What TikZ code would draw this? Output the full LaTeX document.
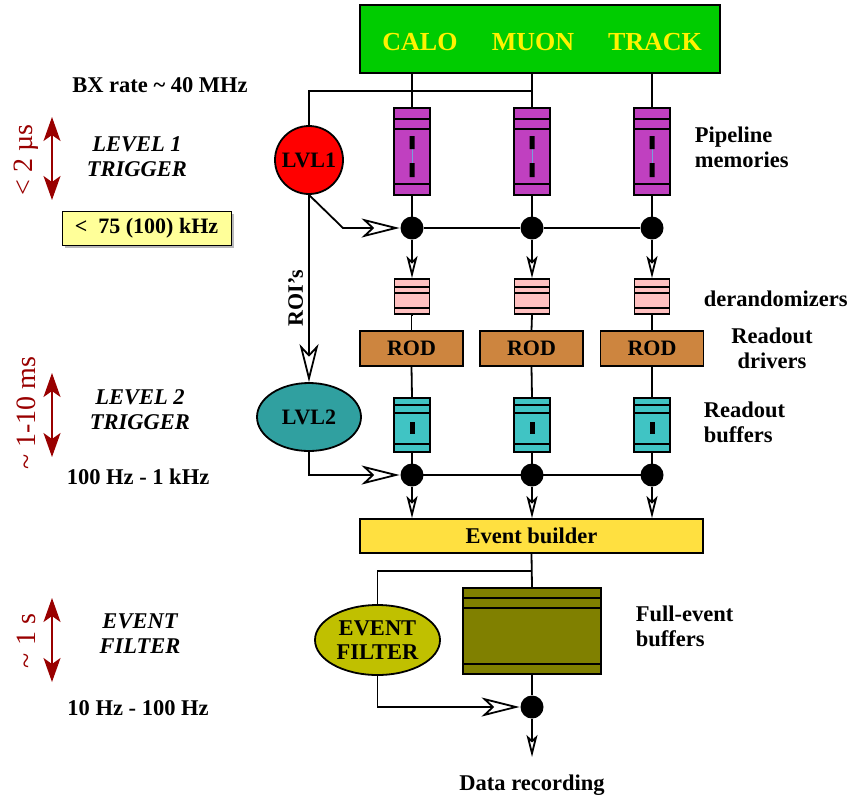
\documentclass[tikz,border=0pt]{standalone}
\usepackage{fontspec}
\setmainfont{Liberation Serif}
\usetikzlibrary{arrows.meta,calc,shapes.geometric}
\definecolor{topgreen}{RGB}{0,204,0}
\definecolor{pipecol}{RGB}{192,64,192}
\definecolor{pinkcol}{RGB}{255,192,192}
\definecolor{rodcol}{RGB}{205,133,63}
\definecolor{bufcol}{RGB}{64,196,196}
\definecolor{lvltwocol}{RGB}{48,160,160}
\definecolor{ebcol}{RGB}{255,224,64}
\definecolor{efcol}{RGB}{192,192,0}
\definecolor{febcol}{RGB}{128,128,0}
\definecolor{boxyellow}{RGB}{255,255,153}
\definecolor{darkred}{RGB}{153,0,0}
\definecolor{thinblue}{RGB}{120,160,220}
\newcommand\PipeMem[2]{%
  \node[pipe] (#1) at (#2,151.5) {};
  \draw (#2-18,119) -- (#2+18,119) (#2-18,129) -- (#2+18,129) (#2-18,184) -- (#2+18,184);
  \draw[line width=0.8pt, thinblue] (#2,149) -- (#2,163);
  \fill (#2-2.5,136) rectangle (#2+2.5,149) (#2-2.5,163) rectangle (#2+2.5,177);
}
\newcommand\DerandBox[2]{%
  \node[derand] (#1) at (#2,296.5) {};
  \draw (#2-17.5,287) -- (#2+17.5,287) (#2-17.5,293) -- (#2+17.5,293) (#2-17.5,308) -- (#2+17.5,308);
}
\newcommand\ReadBuf[2]{%
  \node[rbuf] (#1) at (#2,425) {};
  \draw (#2-18,405) -- (#2+18,405) (#2-18,413) -- (#2+18,413) (#2-18,444) -- (#2+18,444);
  \fill (#2-2.5,422) rectangle (#2+2.5,434);
}
\begin{document}
\begin{tikzpicture}[x=1pt,y=-1pt,line width=1.8pt,
  lab/.style={font=\fontsize{22.5}{25}\selectfont\bfseries, align=left, inner sep=0},
  itlab/.style={font=\fontsize{22.5}{25}\selectfont\bfseries\itshape, align=center, inner sep=0},
  timelab/.style={font=\fontsize{28}{30}\selectfont, text=darkred, rotate=90, inner sep=0},
  timearrow/.style={darkred, line width=1.6pt, {Stealth[length=24pt,width=17pt,inset=6pt]}-{Stealth[length=24pt,width=17pt,inset=6pt]}},
  dot/.style={circle, fill=black, minimum size=23pt, inner sep=0},
  bigarrow/.style={-{Stealth[fill=white,length=38pt,width=19pt,inset=10pt]}},
  smallarrow/.style={-{Stealth[fill=white,length=22pt,width=11pt,inset=5pt]}},
  pipe/.style={draw, fill=pipecol, minimum width=36pt, minimum height=87pt, inner sep=0},
  derand/.style={draw, fill=pinkcol, minimum width=35pt, minimum height=35pt, inner sep=0},
  rbuf/.style={draw, fill=bufcol, minimum width=36pt, minimum height=54pt, inner sep=0},
  rod/.style={draw, fill=rodcol, minimum width=103pt, minimum height=35pt, inner sep=0, font=\fontsize{22}{24}\selectfont\bfseries},
]
\useasboundingbox (0,0) rectangle (851,801);

% top detector box
\node[draw, fill=topgreen, minimum width=360pt, minimum height=68pt, inner sep=0] (top) at (540,39) {};
\node[font=\fontsize{26}{28}\selectfont\bfseries, text=yellow] (calo) at (420,42) {CALO};
\node[font=\fontsize{26}{28}\selectfont\bfseries, text=yellow] (muon) at (533,42) {MUON};
\node[font=\fontsize{26}{28}\selectfont\bfseries, text=yellow] (track) at (655,42) {TRACK};

% columns
\PipeMem{p1}{412}
\PipeMem{p2}{532}
\PipeMem{p3}{652}
\DerandBox{dr1}{412}
\DerandBox{dr2}{532}
\DerandBox{dr3}{652}
\node[rod] (rod1) at (411.5,348.5) {ROD};
\node[rod] (rod2) at (531.5,348.5) {ROD};
\node[rod] (rod3) at (652,348.5) {ROD};
\ReadBuf{rb1}{412}
\ReadBuf{rb2}{532}
\ReadBuf{rb3}{652}

% triggers
\node[circle, draw, fill=red, minimum size=68pt, inner sep=0, font=\fontsize{22}{24}\selectfont\bfseries] (lvl1) at (309,160) {LVL1};
\node[ellipse, draw, fill=lvltwocol, minimum width=104pt, minimum height=68pt, inner sep=0, font=\fontsize{22}{24}\selectfont\bfseries] (lvl2) at (309,417) {LVL2};

% event builder etc.
\node[draw, fill=ebcol, minimum width=343pt, minimum height=34pt, inner sep=0, font=\fontsize{22.5}{24}\selectfont\bfseries] (eb) at (531.5,536) {Event builder};
\node[draw, fill=febcol, minimum width=138pt, minimum height=86pt, inner sep=0] (feb) at (532,631) {};
\draw (463,598) -- (601,598) (463,608) -- (601,608) (463,664) -- (601,664);
\node[ellipse, draw, fill=efcol, minimum width=125pt, minimum height=70pt, inner sep=0, align=center, font=\fontsize{22.5}{24}\selectfont\bfseries] (ef) at (377.5,640) {EVENT\\FILTER};

% junction coordinates
\coordinate (j1) at (0,91);
\coordinate (j2) at (343,228);
\coordinate (j3) at (0,571);
\coordinate (rec) at (532,757);

% connectors top
\foreach \p in {p1,p2,p3} \draw (\p.north) -- (\p.north |- top.south);
\draw (lvl1.north) |- (p2.north |- j1);
\foreach \p in {p1,p2,p3} \draw (\p.south) -- ++(0,33);

% dots row 1
\node[dot] (d11) at (412,228) {};
\node[dot] (d12) at (532,228) {};
\node[dot] (d13) at (652,228) {};
\draw (d11) -- (d12) -- (d13);
\draw[bigarrow] (lvl1.south) -- (j2) -- (d11.west);
\draw[smallarrow] (d11.south) -- (dr1.north);
\draw[smallarrow] (d12.south) -- (dr2.north);
\draw[smallarrow] (d13.south) -- (dr3.north);
\draw (dr1.south) -- (rod1.north |- dr1.south) -- (rod1.north);
\draw (dr2.south) -- (rod2.north);
\draw (dr3.south) -- (rod3.north);
\draw (rod1.south) -- (rb1.north);
\draw (rod2.south) -- (rb2.north);
\draw (rod3.south) -- (rb3.north);

% dots row 2
\draw (rb1.south) -- (412,475) -- (652,475);
\draw (rb2.south) -- (532,475);
\draw (rb3.south) -- (652,475);
\node[dot] (d21) at (412,475) {};
\node[dot] (d22) at (532,475) {};
\node[dot] (d23) at (652,475) {};
\draw[smallarrow] (d21.south) -- (d21.south |- eb.north);
\draw[smallarrow] (d22.south) -- (d22.south |- eb.north);
\draw[smallarrow] (d23.south) -- (d23.south |- eb.north);

% trigger connectors
\draw[bigarrow] (lvl1.south) -- node[pos=0.55, left=5pt, inner sep=0, rotate=90, anchor=south, font=\fontsize{22}{24}\selectfont\bfseries] (roi) {ROI’s} (lvl2.north);
\draw[bigarrow] (lvl2.south) |- (d21.west);

% event filter stage
\draw (eb.south) -- (feb.north);
\draw (eb.south |- j3) -| (ef.north);
\node[dot] (d3) at (532,707) {};
\draw (feb.south) -- (d3);
\draw[bigarrow] (ef.south) |- (d3.west);
\draw[smallarrow] (d3.south) -- (rec);
\node[lab] (datarec) at (532,785) {Data recording};

% right labels
\node[lab, anchor=west] (pipelab) at (694,147) {Pipeline\\memories};
\node[lab, anchor=west] (derlab) at (703,299) {derandomizers};
\node[lab, align=center] (rodlab) at (772,348) {Readout\\drivers};
\node[lab, anchor=west] (rblab) at (703,422) {Readout\\buffers};
\node[lab, anchor=west] (feblab) at (635,626) {Full-event\\buffers};

% left labels
\node[lab] (bx) at (160,85) {BX rate \textasciitilde\ 40 MHz};
\draw[timearrow] (52,117) -- (52,200);
\node[timelab] (t1) at (26,160) {< 2 µs};
\node[itlab] (l1) at (137,157) {LEVEL 1\\TRIGGER};
\fill[gray!55] (65,214) rectangle (234,248);
\node[draw, line width=1pt, fill=boxyellow, minimum width=169pt, minimum height=34pt, inner sep=0, font=\fontsize{22}{24}\selectfont\bfseries] (rate1) at (146.5,228) {<\ \ 75 (100) kHz};

\draw[timearrow] (52,373) -- (52,457);
\node[timelab] (t2) at (26,413) {\textasciitilde\ 1-10 ms};
\node[itlab] (l2) at (140,410) {LEVEL 2\\TRIGGER};
\node[lab] (rate2) at (138,477) {100 Hz - 1 kHz};

\draw[timearrow] (52,598) -- (52,682);
\node[timelab] (t3) at (26,641) {\textasciitilde\ 1 s};
\node[itlab] (l3) at (140,634) {EVENT\\FILTER};
\node[lab] (rate3) at (138,708) {10 Hz - 100 Hz};
\end{tikzpicture}
\end{document}
